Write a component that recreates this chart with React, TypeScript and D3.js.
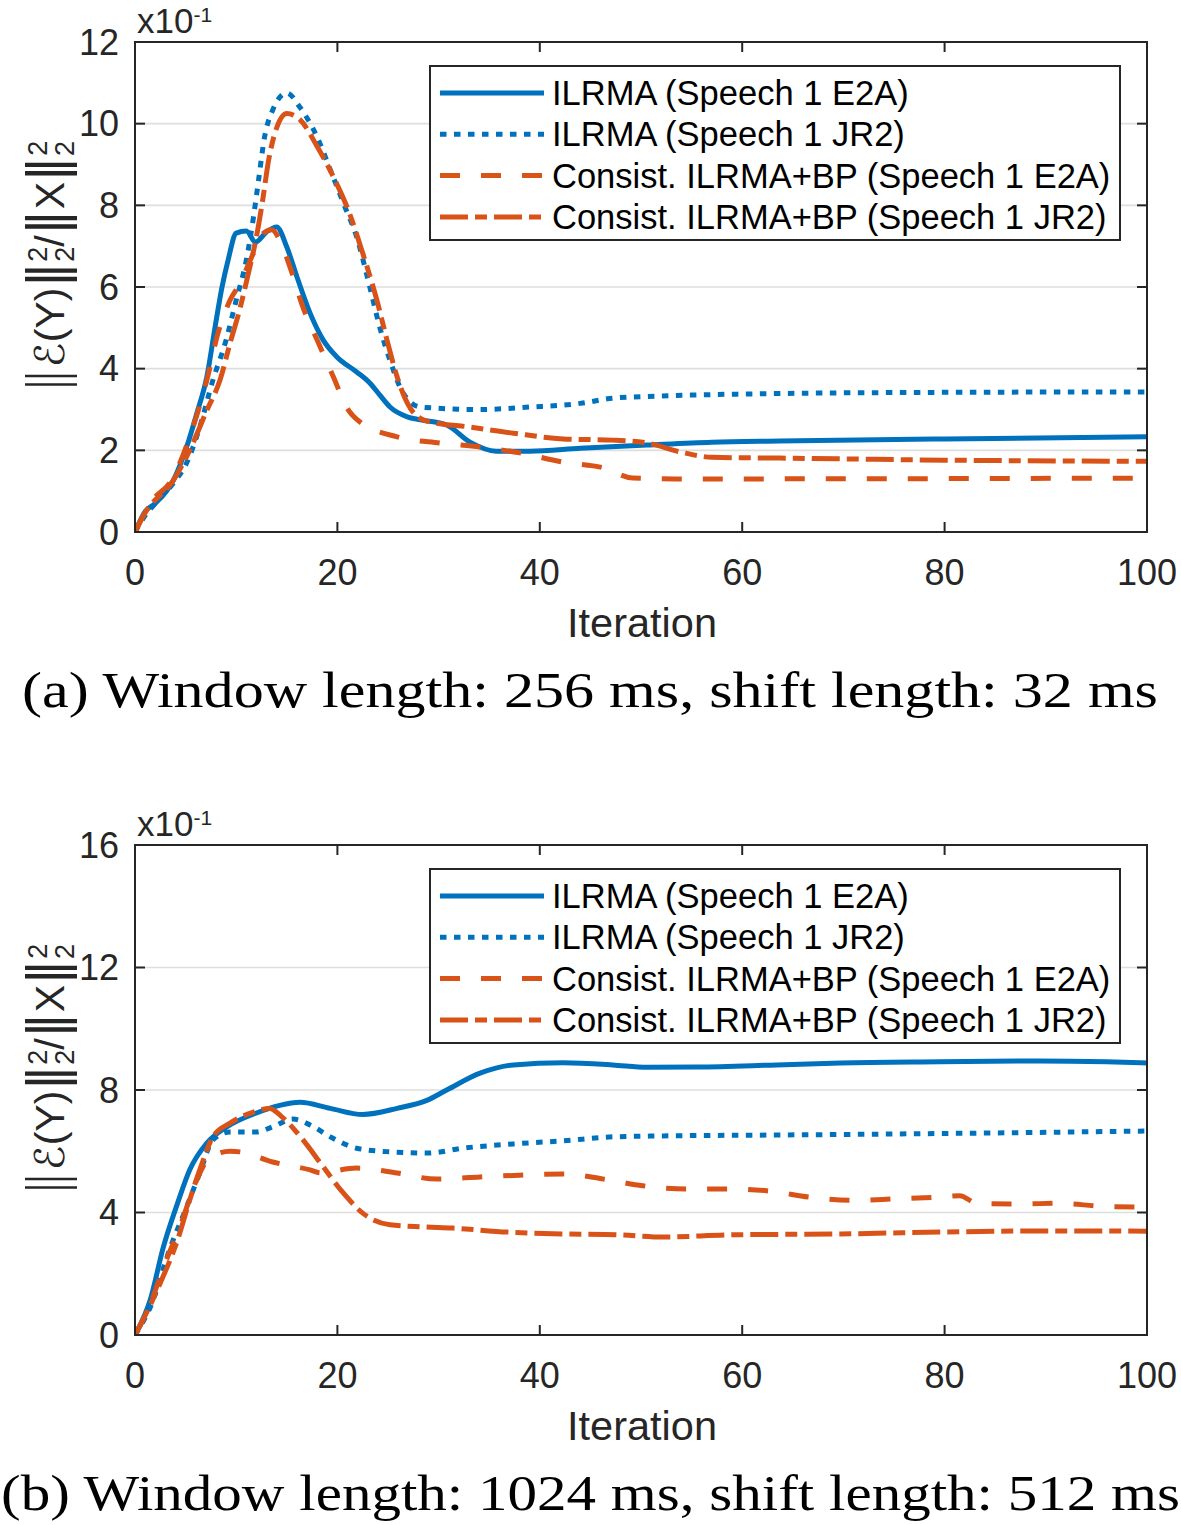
import React from 'react';
import * as d3 from 'd3';

// ---------- data (values in units of x10^-1) ----------
const xTicks = [0, 20, 40, 60, 80, 100];
const topYTicks = [0, 2, 4, 6, 8, 10, 12];
const botYTicks = [0, 4, 8, 12, 16];
const yExponent = '-1';
const xLabel = 'Iteration';
const legendLabels = [
  'ILRMA (Speech 1 E2A)',
  'ILRMA (Speech 1 JR2)',
  'Consist. ILRMA+BP (Speech 1 E2A)',
  'Consist. ILRMA+BP (Speech 1 JR2)',
];
const captions = [
  '(a) Window length: 256 ms, shift length: 32 ms',
  '(b) Window length: 1024 ms, shift length: 512 ms',
];

// (a) top panel
const aIlrmaE2A_x = [0, 1, 2, 3.8, 5.1, 6.1, 7.1, 7.9, 8.6, 9.2, 10, 11, 11.9, 13, 14, 15, 16, 17.3, 18.6, 19.9, 21.9, 23.2, 24.2, 25.2, 26.9, 28.2, 30.8, 33.1, 35.7, 39, 44, 50.6, 57, 63.7, 80, 100];
const aIlrmaE2A_y = [0, 0.5, 0.7, 1.27, 2.08, 2.9, 3.8, 5.0, 6.0, 6.66, 7.32, 7.37, 7.1, 7.35, 7.47, 6.98, 6.25, 5.36, 4.7, 4.3, 3.92, 3.65, 3.35, 3.06, 2.82, 2.75, 2.62, 2.2, 1.98, 1.98, 2.05, 2.13, 2.2, 2.23, 2.28, 2.33];
const aIlrmaJR2_x = [0, 1, 2, 3.8, 5.1, 6.4, 7.7, 9, 10, 11, 11.7, 12.2, 12.8, 13.6, 15, 16.3, 18, 19.3, 20.6, 22, 23.2, 24.2, 25.2, 26.5, 28.2, 34, 39, 44, 47.3, 52, 60.4, 80, 100];
const aIlrmaJR2_y = [0, 0.4, 0.7, 1.2, 1.69, 2.57, 3.72, 4.7, 5.68, 6.66, 7.7, 8.6, 9.67, 10.33, 10.75, 10.4, 9.67, 8.87, 8.05, 7.15, 6.0, 5.0, 4.2, 3.4, 3.06, 3.0, 3.06, 3.15, 3.28, 3.33, 3.38, 3.42, 3.43];
const aConsE2A_x = [0, 1.5, 3.8, 5.4, 7.1, 8.2, 9.4, 10.4, 11.4, 12.7, 13.5, 14.3, 15.3, 16.6, 18, 19.6, 20.9, 22.2, 25.9, 30.1, 34.1, 38, 42.3, 46.3, 49.2, 53.9, 100];
const aConsE2A_y = [0, 0.7, 1.35, 2.33, 3.72, 4.87, 5.68, 6.1, 6.66, 7.32, 7.4, 7.15, 6.5, 5.5, 4.7, 3.8, 3.06, 2.7, 2.33, 2.18, 2.08, 1.94, 1.71, 1.57, 1.32, 1.3, 1.32];
const aConsJR2_x = [0, 1, 3.8, 5.4, 7.1, 8.4, 9.4, 10.4, 11.2, 12, 12.6, 13.2, 14, 15, 16.3, 18, 19.6, 21.2, 22.5, 23.9, 24.9, 25.9, 26.9, 28.5, 29.1, 33.1, 37.4, 42.3, 47.2, 50.6, 53.9, 57, 63.7, 80, 100];
const aConsJR2_y = [0, 0.47, 1.27, 2.0, 2.98, 3.72, 4.63, 5.5, 6.33, 7.23, 8.1, 9.1, 9.9, 10.25, 10.1, 9.44, 8.7, 7.8, 6.83, 5.68, 4.7, 3.8, 3.16, 2.74, 2.7, 2.57, 2.42, 2.28, 2.25, 2.18, 1.96, 1.83, 1.81, 1.76, 1.73];

// (b) bottom panel
const bIlrmaE2A_x = [0, 1.5, 2.8, 4.2, 5.4, 7.1, 9.1, 12, 14.3, 16.3, 19.3, 22.5, 25.9, 28.9, 30.8, 34.1, 37.4, 42.3, 47.2, 50.6, 55.5, 63.4, 69.7, 79.5, 89.4, 96, 100];
const bIlrmaE2A_y = [0, 1.14, 2.87, 4.3, 5.39, 6.27, 6.8, 7.25, 7.5, 7.6, 7.4, 7.2, 7.4, 7.67, 8.0, 8.55, 8.82, 8.89, 8.82, 8.74, 8.75, 8.82, 8.88, 8.92, 8.95, 8.92, 8.88];
const bIlrmaJR2_x = [0, 1.5, 3.5, 5.1, 6.4, 7.7, 9.4, 12, 13.6, 15.6, 17.3, 19.3, 21.9, 25.2, 28.9, 32.4, 37.4, 42.3, 47.2, 52.2, 63.4, 80, 100];
const bIlrmaJR2_y = [0, 0.9, 2.87, 4.18, 5.29, 6.37, 6.63, 6.63, 6.8, 7.05, 6.86, 6.47, 6.1, 5.98, 5.94, 6.1, 6.24, 6.34, 6.47, 6.5, 6.53, 6.58, 6.66];
const bConsE2A_x = [0, 1.5, 2.8, 4.4, 6.1, 7.4, 9.4, 10.4, 13.6, 17.3, 18.3, 21.9, 25.9, 29.8, 34.1, 38, 42.3, 46.3, 50.2, 54.5, 58.8, 62.7, 66.7, 71, 74.9, 79.2, 81.5, 83.2, 87.4, 91.4, 95.7, 100];
const bConsE2A_y = [0, 1.0, 2.2, 3.5, 5.06, 5.8, 6.0, 5.98, 5.65, 5.39, 5.3, 5.45, 5.29, 5.09, 5.16, 5.22, 5.26, 5.09, 4.87, 4.77, 4.77, 4.7, 4.5, 4.4, 4.44, 4.5, 4.55, 4.3, 4.28, 4.3, 4.2, 4.18];
const bConsJR2_x = [0, 0.8, 2.5, 4.2, 5.4, 6.4, 7.7, 9.4, 11.7, 13.3, 14.6, 16.6, 18.6, 20.6, 22.5, 25.2, 28.5, 31.4, 36.8, 42.3, 47.9, 52.2, 58.8, 69.7, 79.5, 89.4, 100];
const bConsJR2_y = [0, 0.5, 1.7, 3.1, 4.4, 5.39, 6.47, 6.92, 7.28, 7.4, 7.1, 6.37, 5.49, 4.63, 3.98, 3.6, 3.53, 3.49, 3.36, 3.3, 3.27, 3.2, 3.27, 3.3, 3.36, 3.4, 3.39];

const BLUE = '#0072BD';
const ORANGE = '#D95319';
const styles = [
  { color: BLUE, dash: null as string | null },
  { color: BLUE, dash: '6.5 7.5' },
  { color: ORANGE, dash: '20 21' },
  { color: ORANGE, dash: '28 7 12 7' },
];

const zip = (xs: number[], ys: number[]) => xs.map((x, i) => [x, ys[i]] as [number, number]);

const AX = '#262626';
const SANS = '"Liberation Sans", Arial, Helvetica, sans-serif';
const SERIF = '"Liberation Serif", "Times New Roman", serif';
const LW = 5;

function Panel({ top, yMax, yTicks, series, caption, captionX, captionLen, id }: any) {
  const left = 135, right = 1147;
  const h = 490;
  const x = d3.scaleLinear().domain([0, 100]).range([left, right]);
  const y = d3.scaleLinear().domain([0, yMax]).range([top + h, top]);
  const line = d3.line<[number, number]>().x(d => x(d[0])).y(d => y(d[1])).curve(d3.curveMonotoneX);
  const tl = 10;
  const legTop = top + 24;
  const legRow = 41.3;
  return (
    <g>
      <defs>
        <clipPath id={id}><rect x={left} y={top} width={right - left} height={h} /></clipPath>
      </defs>
      {yTicks.map((t: number) => (
        <line key={'g' + t} x1={left} x2={right} y1={y(t)} y2={y(t)} stroke="#dedede" strokeWidth={1.6} />
      ))}
      <g clipPath={`url(#${id})`}>
        {series.map((s: [number, number][], i: number) => (
          <path key={i} d={line(s) || ''} fill="none" stroke={styles[i].color} strokeWidth={LW}
            strokeDasharray={styles[i].dash || undefined} strokeLinejoin="round" />
        ))}
      </g>
      <rect x={left} y={top} width={right - left} height={h} fill="none" stroke={AX} strokeWidth={2} />
      {yTicks.map((t: number) => (
        <g key={'yt' + t}>
          <line x1={left} x2={left + tl} y1={y(t)} y2={y(t)} stroke={AX} strokeWidth={2} />
          <line x1={right} x2={right - tl} y1={y(t)} y2={y(t)} stroke={AX} strokeWidth={2} />
          <text x={119} y={y(t) + 12.5} textAnchor="end" fontFamily={SANS} fontSize={36} fill={AX}>{t}</text>
        </g>
      ))}
      {xTicks.map((t: number) => (
        <g key={'xt' + t}>
          <line x1={x(t)} x2={x(t)} y1={top + h} y2={top + h - tl} stroke={AX} strokeWidth={2} />
          <line x1={x(t)} x2={x(t)} y1={top} y2={top + tl} stroke={AX} strokeWidth={2} />
          <text x={x(t)} y={top + h + 53} textAnchor="middle" fontFamily={SANS} fontSize={36} fill={AX}>{t}</text>
        </g>
      ))}
      <text x={642} y={top + h + 105} textAnchor="middle" fontFamily={SANS} fontSize={41.5} fill={AX}>{xLabel}</text>
      <text x={137} y={top - 9} fontFamily={SANS} fontSize={35} fill={AX}>
        x10<tspan fontSize={21} dy={-11}>{yExponent}</tspan>
      </text>
      <g transform={`translate(64, ${top + h / 2 - 20}) rotate(-90)`}>
        <text textAnchor="middle" fontFamily={SANS} fontSize={41} fill={AX}>
          <tspan fontSize={52} fontFamily="DejaVu Sans" fontWeight={300}>‖</tspan>
          <tspan fontFamily="DejaVu Sans">ℰ</tspan>
          <tspan>(Y)</tspan>
          <tspan fontSize={52} fontFamily="DejaVu Sans">‖</tspan>
          <tspan fontSize={27} dy={10}>2</tspan>
          <tspan fontSize={27} dx={-15} dy={-27}>2</tspan>
          <tspan dy={17}>/</tspan>
          <tspan fontSize={52} fontFamily="DejaVu Sans">‖</tspan>
          <tspan>X</tspan>
          <tspan fontSize={52} fontFamily="DejaVu Sans">‖</tspan>
          <tspan fontSize={27} dy={10}>2</tspan>
          <tspan fontSize={27} dx={-15} dy={-27}>2</tspan>
        </text>
      </g>
      <rect x={430} y={top + 24} width={690} height={174} fill="#fff" stroke={AX} strokeWidth={2} />
      {legendLabels.map((lab, i) => {
        const cy = legTop + 27 + i * legRow;
        return (
          <g key={'l' + i}>
            <line x1={440} x2={544} y1={cy} y2={cy} stroke={styles[i].color} strokeWidth={LW}
              strokeDasharray={styles[i].dash || undefined} />
            <text x={552} y={cy + 12} fontFamily={SANS} fontSize={34.5} fill="#000">{lab}</text>
          </g>
        );
      })}
      <text x={captionX} y={top + 665} fontFamily={SERIF} fontSize={50}
        fill="#000" textLength={captionLen} lengthAdjust="spacingAndGlyphs">{caption}</text>
    </g>
  );
}

export default function App() {
  const seriesA = [
    zip(aIlrmaE2A_x, aIlrmaE2A_y),
    zip(aIlrmaJR2_x, aIlrmaJR2_y),
    zip(aConsE2A_x, aConsE2A_y),
    zip(aConsJR2_x, aConsJR2_y),
  ];
  const seriesB = [
    zip(bIlrmaE2A_x, bIlrmaE2A_y),
    zip(bIlrmaJR2_x, bIlrmaJR2_y),
    zip(bConsE2A_x, bConsE2A_y),
    zip(bConsJR2_x, bConsJR2_y),
  ];
  return (
    <svg width={1181} height={1525} style={{ position: 'absolute', left: 0, top: 0, background: '#fff' }}>
      <rect width={1181} height={1525} fill="#fff" />
      <Panel id="clipA" top={42} yMax={12} yTicks={topYTicks} series={seriesA} caption={captions[0]} captionX={22} captionLen={1136} />
      <Panel id="clipB" top={845} yMax={16} yTicks={botYTicks} series={seriesB} caption={captions[1]} captionX={1} captionLen={1179} />
    </svg>
  );
}
